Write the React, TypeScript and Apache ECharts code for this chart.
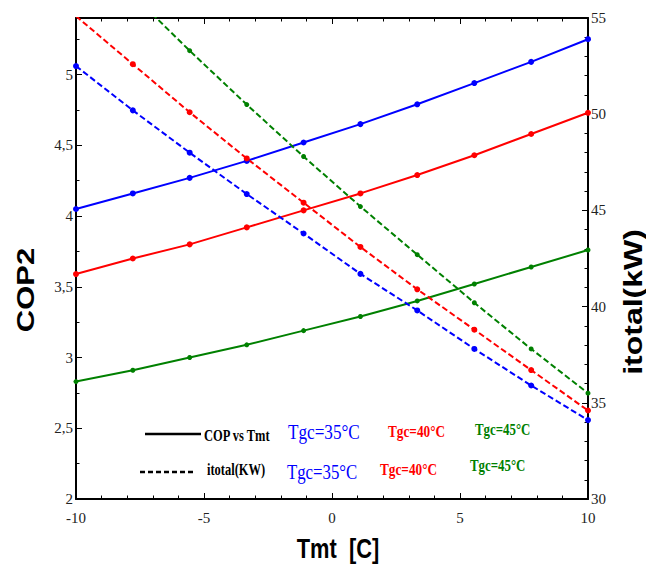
import React, { useEffect, useRef } from "react";
import * as echarts from "echarts";

// Tmt [C]
const tmt = [-10, -7.78, -5.56, -3.33, -1.11, 1.11, 3.33, 5.56, 7.78, 10];
// COP2 (left axis)
const cop35 = [4.05, 4.16, 4.27, 4.39, 4.52, 4.65, 4.79, 4.94, 5.09, 5.25];
const cop40 = [3.59, 3.7, 3.8, 3.92, 4.04, 4.16, 4.29, 4.43, 4.58, 4.73];
const cop45 = [2.83, 2.91, 3.0, 3.09, 3.19, 3.29, 3.4, 3.52, 3.64, 3.76];
// itotal (kW) (right axis)
const itotal35 = [52.5, 50.2, 48.0, 45.85, 43.8, 41.7, 39.8, 37.8, 35.9, 34.1];
const itotal40 = [55.1, 52.6, 50.1, 47.7, 45.4, 43.1, 40.9, 38.8, 36.7, 34.6];
const itotal45 = [59.2, 56.2, 53.3, 50.5, 47.8, 45.2, 42.7, 40.2, 37.8, 35.5];

const BLUE = "#0000ff";
const RED = "#ff0000";
const GREEN = "#008000";
const SERIF = '"Liberation Serif", "Times New Roman", serif';
const SANS = '"Liberation Sans", Arial, sans-serif';
const SQ = 0.78;

const pairs = (ys: number[]) => tmt.map((x, i) => [x, ys[i]]);

const mkSeries = (name: string, ys: number[], color: string, yIdx: number, dashed: boolean, size: number) => ({
  name,
  type: "line",
  xAxisIndex: 0,
  yAxisIndex: yIdx,
  data: pairs(ys),
  symbol: "circle",
  symbolSize: size,
  showSymbol: true,
  clip: true,
  itemStyle: { color },
  lineStyle: { color, width: 2, type: dashed ? [6, 3] : "solid" },
});

const txt = (
  text: string,
  x: number,
  y: number,
  color: string,
  size: number,
  bold: boolean,
  family = SERIF,
  extra: any = {}
) => ({
  type: "text",
  x,
  y,
  scaleX: SQ,
  ...extra,
  style: {
    text,
    fill: color,
    fontSize: size,
    fontFamily: family,
    fontWeight: bold ? "bold" : "normal",
    textAlign: extra.center ? "center" : "left",
    align: extra.center ? "center" : "left",
    textVerticalAlign: "middle",
    verticalAlign: "middle",
  },
});

export default function App() {
  const ref = useRef<HTMLDivElement>(null);
  useEffect(() => {
    if (!ref.current) return;
    const chart = echarts.init(ref.current, null, { renderer: "svg" });
    const axisLine = { show: true, onZero: false, lineStyle: { color: "#000", width: 2 } };
    const tick = { show: true, inside: true, length: 6, lineStyle: { color: "#000", width: 1 } };
    const minor = (n: number) => ({ show: true, splitNumber: n, length: 3.5, lineStyle: { color: "#000", width: 1 } });
    const label = { fontFamily: SERIF, fontSize: 15, color: "#222" };
    const option: any = {
      animation: false,
      backgroundColor: "#ffffff",
      grid: { left: 76, right: 58, top: 18, bottom: 65, containLabel: false },
      xAxis: [
        {
          type: "value",
          position: "bottom",
          min: -10,
          max: 10,
          interval: 5,
          axisLine,
          axisTick: tick,
          minorTick: minor(5),
          splitLine: { show: false },
          axisLabel: { ...label, margin: 11 },
        },
        {
          type: "value",
          position: "top",
          min: -10,
          max: 10,
          interval: 5,
          axisLine,
          axisTick: tick,
          minorTick: minor(5),
          splitLine: { show: false },
          axisLabel: { show: false },
        },
      ],
      yAxis: [
        {
          type: "value",
          position: "left",
          min: 2,
          max: 5.4,
          interval: 0.5,
          axisLine,
          axisTick: tick,
          minorTick: minor(2),
          splitLine: { show: false },
          axisLabel: {
            ...label,
            margin: 3,
            formatter: (v: number) =>
              Math.abs(v * 2 - Math.round(v * 2)) > 1e-6 ? "" : String(Math.round(v * 10) / 10).replace(".", ","),
          },
        },
        {
          type: "value",
          position: "right",
          min: 30,
          max: 55,
          interval: 5,
          axisLine,
          axisTick: tick,
          minorTick: minor(5),
          splitLine: { show: false },
          axisLabel: { ...label, margin: 3 },
        },
      ],
      series: [
        mkSeries("COP Tgc=35", cop35, BLUE, 0, false, 6),
        mkSeries("COP Tgc=40", cop40, RED, 0, false, 6),
        mkSeries("COP Tgc=45", cop45, GREEN, 0, false, 5),
        mkSeries("itotal Tgc=35", itotal35, BLUE, 1, true, 6),
        mkSeries("itotal Tgc=40", itotal40, RED, 1, true, 6),
        mkSeries("itotal Tgc=45", itotal45, GREEN, 1, true, 5),
      ],
      graphic: [
        { type: "line", shape: { x1: 145, y1: 434, x2: 201, y2: 434 }, style: { stroke: "#000", lineWidth: 2.5 } },
        {
          type: "line",
          shape: { x1: 140, y1: 472, x2: 194, y2: 472 },
          style: { stroke: "#000", lineWidth: 2.5, lineDash: [5, 3] },
        },
        txt("COP vs Tmt", 204, 435, "#000", 16, true),
        txt("Tgc=35°C", 288, 431, BLUE, 22, false),
        txt("Tgc=40°C", 388, 431, RED, 17, true),
        txt("Tgc=45°C", 475, 429, GREEN, 16.5, true),
        txt("itotal(KW)", 207, 469, "#000", 16, true),
        txt("Tgc=35°C", 287, 472, BLUE, 21.5, false),
        txt("Tgc=40°C", 380, 469, RED, 17, true),
        txt("Tgc=45°C", 470, 465, GREEN, 16.5, true),
        txt("Tmt  [C]", 338, 548, "#000", 28, true, SANS, { center: true }),
        txt("COP2", 26, 290, "#000", 31, true, SANS, { center: true, rotation: Math.PI / 2, scaleX: 1, scaleY: SQ }),
        txt("itotal(kW)", 633, 302, "#000", 32, true, SANS, {
          center: true,
          rotation: Math.PI / 2,
          scaleX: 1,
          scaleY: SQ,
        }),
      ],
    };
    chart.setOption(option);
    return () => chart.dispose();
  }, []);
  return (
    <div
      ref={ref}
      style={{ position: "fixed", left: 0, top: 0, width: 646, height: 564, background: "#fff" }}
    />
  );
}
